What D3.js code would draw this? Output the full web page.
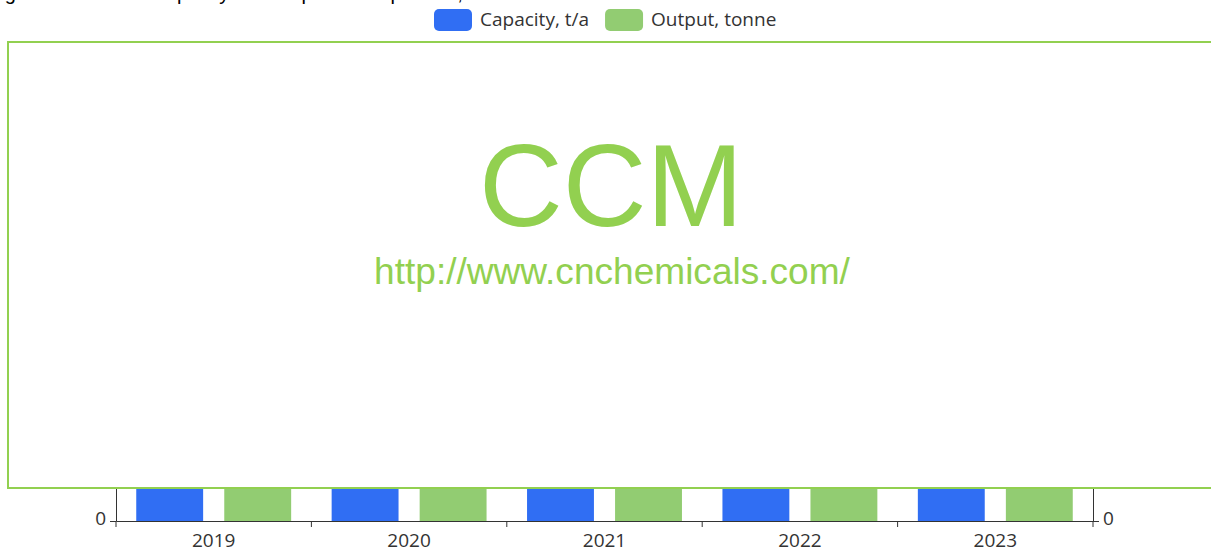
<!DOCTYPE html>
<html>
<head>
<meta charset="utf-8">
<script src="https://cdn.jsdelivr.net/npm/d3@7"></script>
<style>
  body { margin: 0; background: #fff; }
  svg { display: block; }
</style>
</head>
<body>
<div id="chart"></div>
<script>
const Width = 1211;
const Height = 552;

// values hidden behind the watermark, estimated
const years = ["2019", "2020", "2021", "2022", "2023"];
const capacity = [12000, 12000, 14000, 15000, 15000];
const output = [8500, 9000, 10500, 11200, 11800];
const seriesNames = ["Capacity, t/a", "Output, tonne"];
const seriesColors = ["#306ef3", "#92cc72"];
const leftTicks = [0];
const rightTicks = [0];
const titleText = "Figure 1 Domestic capacity and output of the product, 2019-2023";

const margin = { top: 60, right: 118, bottom: 31, left: 116 };
const labelFont = "'Open Sans', sans-serif";

const svg = d3
  .select("#chart")
  .append("svg")
  .attr("width", Width)
  .attr("height", Height)
  .style("font-family", labelFont);

// title, cut off at the top of the picture (only descenders show)
svg
  .append("text")
  .attr("x", -12)
  .attr("y", 0)
  .style("font", "20px 'Liberation Sans', Arial, sans-serif")
  .attr("fill", "#000")
  .text(titleText);

const x0 = d3
  .scaleBand()
  .domain(years)
  .range([margin.left, Width - margin.right])
  .paddingInner(0)
  .paddingOuter(0);

const x1 = d3
  .scaleBand()
  .domain([0, 1])
  .range([0, x0.bandwidth()])
  .paddingInner(0.24)
  .paddingOuter(0.23);

const yLeft = d3
  .scaleLinear()
  .domain([0, 16000])
  .range([Height - margin.bottom, margin.top]);
const yRight = d3
  .scaleLinear()
  .domain([0, 16000])
  .range([Height - margin.bottom, margin.top]);

const rows = years.map((yr, i) => ({ year: yr, vals: [capacity[i], output[i]] }));

const g = svg
  .append("g")
  .selectAll("g")
  .data(rows)
  .join("g")
  .attr("transform", (d) => `translate(${x0(d.year)},0)`);

g.selectAll("rect")
  .data((d) => d.vals.map((v, k) => ({ k, v })))
  .join("rect")
  .attr("x", (d) => x1(d.k))
  .attr("width", x1.bandwidth())
  .attr("y", (d) => (d.k === 0 ? yLeft(d.v) : yRight(d.v)))
  .attr("height", (d) => (d.k === 0 ? yLeft(0) - yLeft(d.v) : yRight(0) - yRight(d.v)))
  .attr("fill", (d) => seriesColors[d.k]);

// axes
const xAxis = svg
  .append("g")
  .attr("transform", `translate(0,${Height - margin.bottom})`)
  .call(d3.axisBottom(x0).tickSize(0).tickPadding(13));
xAxis.select(".domain").attr("stroke", "#333").attr("stroke-width", 1.2);
xAxis
  .selectAll(".tick text")
  .attr("fill", "#333")
  .style("font-size", "19px")
  .style("font-family", labelFont);
xAxis
  .selectAll(".sep")
  .data(x0.domain().map((d) => x0(d)).concat([x0.range()[1]]))
  .join("line")
  .attr("class", "sep")
  .attr("x1", (d) => d)
  .attr("x2", (d) => d)
  .attr("y1", 0)
  .attr("y2", 6)
  .attr("stroke", "#333");

const leftAxis = svg
  .append("g")
  .attr("transform", `translate(${margin.left},0)`)
  .call(d3.axisLeft(yLeft).tickValues(leftTicks).tickSize(6).tickSizeOuter(0).tickPadding(4));
leftAxis.select(".domain").attr("stroke", "#333");
leftAxis.selectAll(".tick line").attr("stroke", "#333");
leftAxis
  .selectAll(".tick text")
  .attr("fill", "#333")
  .attr("dy", "0.2em")
  .style("font-size", "19px")
  .style("font-family", labelFont);

const rightAxis = svg
  .append("g")
  .attr("transform", `translate(${Width - margin.right},0)`)
  .call(d3.axisRight(yRight).tickValues(rightTicks).tickSize(6).tickSizeOuter(0).tickPadding(4));
rightAxis.select(".domain").attr("stroke", "#333");
rightAxis.selectAll(".tick line").attr("stroke", "#333");
rightAxis
  .selectAll(".tick text")
  .attr("fill", "#333")
  .attr("dy", "0.2em")
  .style("font-size", "19px")
  .style("font-family", labelFont);

// legend
const legend = svg.append("g").attr("transform", "translate(434,9)");
let lx = 0;
seriesNames.forEach((name, i) => {
  const item = legend.append("g").attr("transform", `translate(${lx},0)`);
  item
    .append("rect")
    .attr("width", 38)
    .attr("height", 22)
    .attr("rx", 5)
    .attr("fill", seriesColors[i]);
  const t = item
    .append("text")
    .attr("x", 46)
    .attr("y", 17)
    .attr("fill", "#333")
    .style("font-size", "19px")
    .style("font-family", labelFont)
    .text(name);
  lx += 46 + t.node().getComputedTextLength() + 16;
});

// watermark overlay
const wm = svg.append("g");
wm.append("rect")
  .attr("x", 8)
  .attr("y", 42)
  .attr("width", Width + 10)
  .attr("height", 446)
  .attr("fill", "#fff")
  .attr("stroke", "#92d050")
  .attr("stroke-width", 2);

wm.append("text")
  .attr("x", 611)
  .attr("y", 226)
  .attr("text-anchor", "middle")
  .attr("fill", "#92d050")
  .style("font-family", "'Liberation Sans', Arial, sans-serif")
  .style("font-size", "116px")
  .text("CCM");

const url = wm
  .append("text")
  .attr("x", 612)
  .attr("y", 284)
  .attr("text-anchor", "middle")
  .attr("fill", "#92d050")
  .style("font-family", "'Liberation Sans', Arial, sans-serif")
  .style("font-size", "36px")
  .text("http://www.cnchemicals.com/");
const uw = url.node().getComputedTextLength();
url.style("font-size", (36 * 476) / uw + "px");
</script>
</body>
</html>
